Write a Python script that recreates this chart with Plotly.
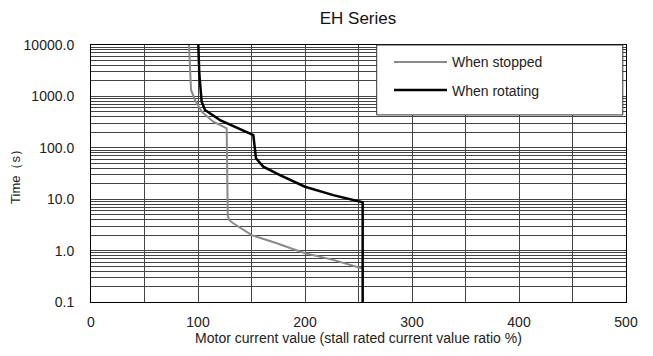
import plotly.graph_objects as go

# Data
stopped_x = [91.6, 92.5, 93.5, 97.2, 103.5, 114.3, 126.8, 127.8, 129.3, 132.9, 150.2, 173.6, 200.0, 226.4, 253.5]
stopped_t = [10000, 3000, 1333, 851, 504, 322, 240, 4.8, 3.9, 3.4, 2.0, 1.39, 0.89, 0.66, 0.45]

rotating_x = [100.3, 101.2, 103.4, 106.5, 120.6, 136.2, 150.2, 151.7, 154.2, 161.0, 176.6, 200.0, 226.4, 251.4, 253.9, 253.9]
rotating_t = [10000, 2800, 789, 543, 346, 251, 185, 177, 62.5, 43, 29.5, 17.5, 12, 8.9, 8.7, 0.1]

y_tick_vals = [0.1, 1, 10, 100, 1000, 10000]
y_tick_text = ["0.1", "1.0", "10.0", "100.0", "1000.0", "10000.0"]
y_minor_vals = [m * d for d in [0.1, 1, 10, 100, 1000] for m in range(2, 10)]
x_tick_vals = [0, 100, 200, 300, 400, 500]
x_minor_vals = [50, 150, 250, 350, 450]

FONT = "Liberation Sans, Arial, sans-serif"
GRID = "#444444"

fig = go.Figure()
fig.add_trace(go.Scatter(x=stopped_x, y=stopped_t, mode="lines", name="When stopped",
                         line=dict(color="#8a8a8a", width=2), legendgroup="a"))
fig.add_trace(go.Scatter(x=rotating_x, y=rotating_t, mode="lines", name="When rotating",
                         line=dict(color="#000000", width=2.5), legendgroup="b"))

fig.update_layout(
    width=653, height=356,
    margin=dict(l=83, r=35, t=37, b=62, autoexpand=False),
    paper_bgcolor="white", plot_bgcolor="white",
    font=dict(family=FONT, size=13, color="#222"),
    title=dict(text="EH Series", x=0.536, xanchor="center", y=0.972, yanchor="middle",
               font=dict(size=17, color="#111")),
    showlegend=True,
    legend=dict(x=0.557, xanchor="left", y=0.995, yanchor="top",
                bgcolor="rgba(0,0,0,0)", borderwidth=0,
                font=dict(size=14, color="#222"), itemwidth=53,
                tracegroupgap=7, traceorder="grouped"),
    shapes=[dict(type="rect", xref="paper", yref="paper", x0=0.534, x1=0.994, y0=0.728, y1=1.0,
                 line=dict(color="#333", width=1), fillcolor="white", layer="above")],
)

fig.update_xaxes(range=[0, 500], tickvals=x_tick_vals, showgrid=True, gridcolor=GRID, gridwidth=1,
                 minor=dict(tickvals=x_minor_vals, showgrid=True, gridcolor=GRID, gridwidth=1),
                 showline=True, linecolor="black", linewidth=1, mirror=True,
                 ticks="", zeroline=False, tickfont=dict(size=14, color="#222"),
                 ticklabelstandoff=7,
                 title=dict(text="Motor current value (stall rated current value ratio %)",
                            font=dict(size=14, color="#222"), standoff=2))
fig.update_yaxes(type="log", range=[-1, 4], tickvals=y_tick_vals, ticktext=y_tick_text,
                 showgrid=True, gridcolor=GRID, gridwidth=1,
                 minor=dict(tickvals=y_minor_vals, showgrid=True, gridcolor=GRID, gridwidth=1),
                 showline=True, linecolor="black", linewidth=1, mirror=True,
                 ticks="", zeroline=False, tickfont=dict(size=14, color="#222"),
                 ticklabelstandoff=13,
                 title=dict(text="Time（s）", font=dict(size=13, color="#222"), standoff=2))

fig.write_html("out.html")
